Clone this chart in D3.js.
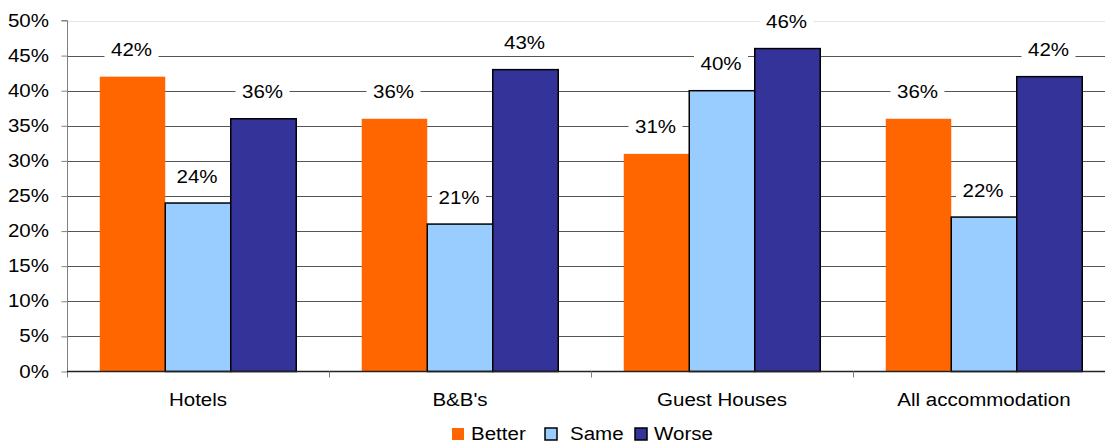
<!DOCTYPE html>
<html>
<head>
<meta charset="utf-8">
<script src="https://cdn.jsdelivr.net/npm/d3@7"></script>
<style>
  html, body { margin: 0; padding: 0; background: #fff; }
  svg { display: block; font-family: Arial, "Liberation Sans", sans-serif; }
</style>
</head>
<body>
<svg id="chart" width="1105" height="443"></svg>
<script>
// Survey results by accommodation type
const categories = ["Hotels", "B&B's", "Guest Houses", "All accommodation"];
const seriesNames = ["Better", "Same", "Worse"];
const better = [42, 36, 31, 36];
const same = [24, 21, 40, 22];
const worse = [36, 43, 46, 42];
const yTicks = [0, 5, 10, 15, 20, 25, 30, 35, 40, 45, 50];
const colors = ["#FF6600", "#99CCFF", "#333399"];

const seriesValues = [better, same, worse];

const svg = d3.select("#chart");
const plotLeft = 67, plotRight = 1115, plotTop = 20.5, plotBottom = 371.5;
const fontSize = 19, stretch = 1.08;

// place a slightly widened text at (px, py)
function placeText(sel, px, py) {
  return sel.attr("x", 0).attr("y", 0)
    .attr("transform", (d, i) => `translate(${typeof px === "function" ? px(d, i) : px},${typeof py === "function" ? py(d, i) : py}) scale(${stretch},1)`)
    .attr("font-size", fontSize)
    .attr("fill", "#000");
}

const x = d3.scaleBand().domain(categories).range([plotLeft, plotRight]).paddingInner(0).paddingOuter(0);
const xs = d3.scaleBand().domain(seriesNames).range([0, x.bandwidth()]).paddingInner(0).paddingOuter(0.5);
const y = d3.scaleLinear().domain([0, 50]).range([plotBottom, plotTop]);

// gridlines
svg.append("g").selectAll("line")
  .data(yTicks.filter(t => t > 0))
  .join("line")
  .attr("x1", plotLeft).attr("x2", plotRight)
  .attr("y1", d => Math.round(y(d)) + 0.5).attr("y2", d => Math.round(y(d)) + 0.5)
  .attr("stroke", d => d === 50 ? "#e4e4e4" : "#555")
  .attr("stroke-width", 1);

// bars
const groups = svg.append("g").selectAll("g")
  .data(categories)
  .join("g")
  .attr("transform", d => `translate(${x(d)},0)`);

groups.selectAll("rect")
  .data((c, i) => seriesNames.map((s, j) => ({ s, j, v: seriesValues[j][i] })))
  .join("rect")
  .attr("x", d => xs(d.s))
  .attr("width", xs.bandwidth())
  .attr("y", d => y(d.v))
  .attr("height", d => y(0) - y(d.v))
  .attr("fill", d => colors[d.j])
  .attr("stroke", d => d.j === 0 ? "none" : "#000")
  .attr("stroke-width", 1.5);

// value labels with white backing
const labelG = groups.selectAll("g.lbl")
  .data((c, i) => seriesNames.map((s, j) => ({ s, j, v: seriesValues[j][i] })))
  .join("g")
  .attr("class", "lbl")
  .attr("transform", d => `translate(${xs(d.s) + xs.bandwidth() / 2 - 1},${y(d.v) - 20.5})`);

labelG.append("rect")
  .attr("x", -27).attr("y", -18).attr("width", 54).attr("height", 24)
  .attr("fill", "#fff");
placeText(labelG.append("text"), 0, 0)
  .attr("text-anchor", "middle")
  .text(d => d.v + "%");

// y axis
const yAxis = d3.axisLeft(y).tickValues(yTicks).tickFormat(d => d + "%").tickSize(6);
const yg = svg.append("g").attr("transform", `translate(${plotLeft + 0.5},0)`).call(yAxis);
yg.select(".domain").attr("stroke", "#808080").attr("d", `M-6,${plotTop}H0V${plotBottom + 6}`);
yg.selectAll(".tick line").attr("stroke", "#808080");
placeText(yg.selectAll(".tick text"), -18.5, 5.5)
  .attr("dy", null)
  .attr("text-anchor", "end")
  .attr("font-family", "Arial, 'Liberation Sans', sans-serif");

// x axis
svg.append("line")
  .attr("x1", plotLeft).attr("x2", plotRight)
  .attr("y1", plotBottom).attr("y2", plotBottom)
  .attr("stroke", "#222").attr("stroke-width", 1.5);
svg.append("g").selectAll("line")
  .data(categories.slice(1))
  .join("line")
  .attr("x1", d => Math.round(x(d)) + 0.5).attr("x2", d => Math.round(x(d)) + 0.5)
  .attr("y1", plotBottom).attr("y2", plotBottom + 6)
  .attr("stroke", "#808080");
placeText(svg.append("g").selectAll("text").data(categories).join("text"),
  d => x(d) + x.bandwidth() / 2, 406)
  .attr("text-anchor", "middle")
  .text(d => d);

// legend
const legendItems = [
  { name: "Better", sx: 452, tx: 471 },
  { name: "Same", sx: 545, tx: 570 },
  { name: "Worse", sx: 635, tx: 654 }
];
const lg = svg.append("g");
legendItems.forEach((it, i) => {
  lg.append("rect")
    .attr("x", it.sx).attr("y", 428).attr("width", 12).attr("height", 12)
    .attr("fill", colors[i])
    .attr("stroke", i === 0 ? "none" : "#000").attr("stroke-width", 1.5);
  placeText(lg.append("text"), it.tx, 440).text(it.name);
});
</script>
</body>
</html>
